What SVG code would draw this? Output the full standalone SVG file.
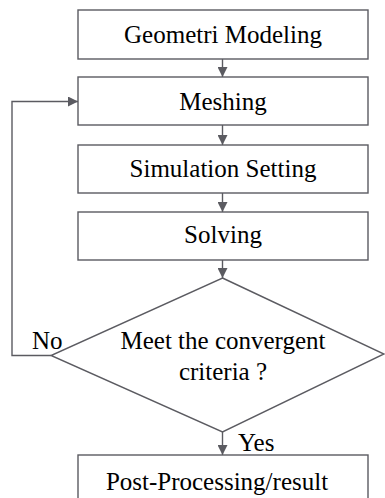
<svg xmlns="http://www.w3.org/2000/svg" width="385" height="498" viewBox="0 0 385 498">
  <defs>
    <style>
      .box { fill: #ffffff; stroke: #5b5b61; stroke-width: 1.4; }
      .edge { fill: none; stroke: #5b5b61; stroke-width: 1.4; }
      .lbl { font-family: "Liberation Serif", "Times New Roman", serif; font-size: 25px; fill: #000000; }
      .mid { text-anchor: middle; }
    </style>
    <marker id="arrow" viewBox="0 0 10 10" refX="10" refY="5" markerWidth="10" markerHeight="10" markerUnits="userSpaceOnUse" orient="auto">
      <path d="M0,0 L10,5 L0,10 Z" fill="#5b5b61"/>
    </marker>
  </defs>
  <rect width="385" height="498" fill="#ffffff"/>

  <g id="connectors">
    <line class="edge" x1="222.5" y1="59" x2="222.5" y2="77" marker-end="url(#arrow)"/>
    <line class="edge" x1="222.5" y1="125" x2="222.5" y2="145" marker-end="url(#arrow)"/>
    <line class="edge" x1="222.5" y1="193" x2="222.5" y2="212" marker-end="url(#arrow)"/>
    <line class="edge" x1="222.5" y1="260" x2="222.5" y2="278" marker-end="url(#arrow)"/>
    <line class="edge" x1="222.5" y1="432" x2="222.5" y2="455" marker-end="url(#arrow)"/>
    <polyline class="edge" points="51,355.5 12,355.5 12,101.5 78,101.5" marker-end="url(#arrow)"/>
  </g>

  <g id="geometri-modeling">
    <rect class="box" x="78" y="10" width="290" height="49"/>
    <text class="lbl mid" x="223" y="43">Geometri Modeling</text>
  </g>

  <g id="meshing">
    <rect class="box" x="78" y="77" width="290" height="48"/>
    <text class="lbl mid" x="223" y="110">Meshing</text>
  </g>

  <g id="simulation-setting">
    <rect class="box" x="78" y="145" width="290" height="48"/>
    <text class="lbl mid" x="223" y="177">Simulation Setting</text>
  </g>

  <g id="solving">
    <rect class="box" x="78" y="212" width="290" height="48"/>
    <text class="lbl mid" x="223" y="243">Solving</text>
  </g>

  <g id="convergence-check">
    <polygon class="box" points="222.5,278 384,354 222.5,432 51,355.5"/>
    <text class="lbl mid" x="223" y="349">Meet the convergent</text>
    <text class="lbl mid" x="223" y="380">criteria ?</text>
    <text class="lbl" x="32" y="349">No</text>
    <text class="lbl" x="238" y="451">Yes</text>
  </g>

  <g id="post-processing">
    <rect class="box" x="78" y="455" width="290" height="60"/>
    <text class="lbl mid" x="217" y="490">Post-Processing/result</text>
  </g>
</svg>
